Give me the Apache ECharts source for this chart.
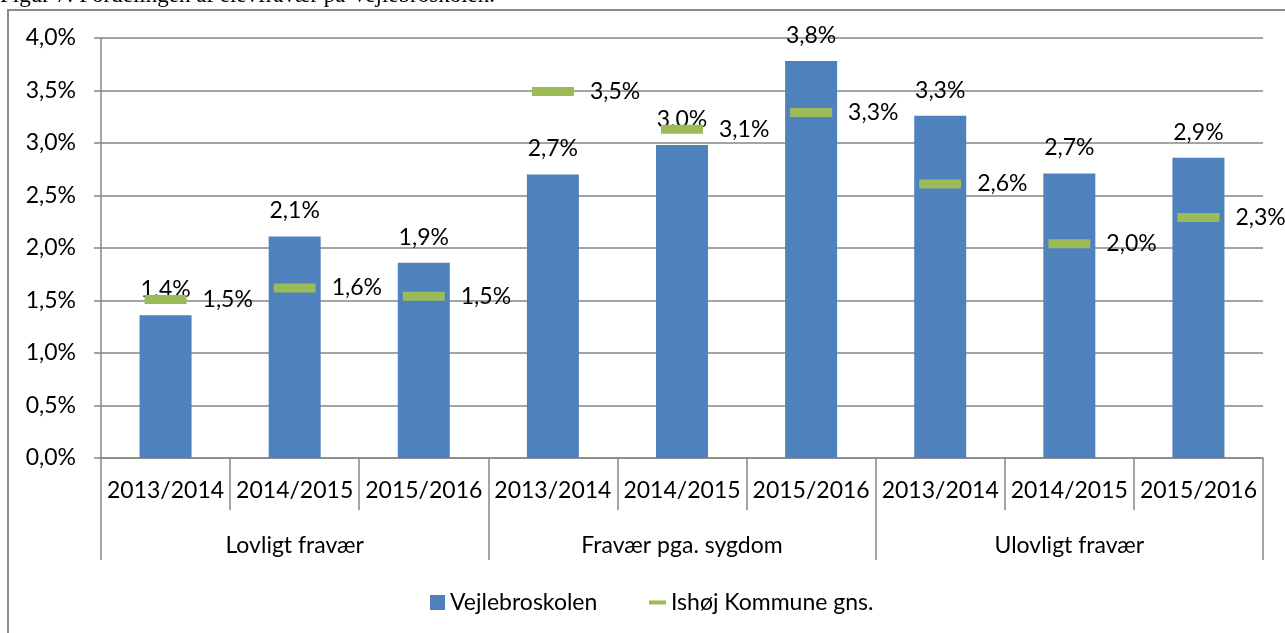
<!DOCTYPE html>
<html>
<head>
<meta charset="utf-8">
<script src="https://cdn.jsdelivr.net/npm/echarts@6/dist/echarts.min.js"></script>
<style>
  html, body { margin: 0; padding: 0; background: #fff; }
  #frame { position: absolute; left: 7px; top: 9px; width: 1400px; height: 800px; border: 2px solid #8c8c8c; pointer-events: none; }
  #mychart { position: absolute; left: 0; top: 0; width: 1285px; height: 633px; }
</style>
</head>
<body>
<div id="mychart"></div>
<div id="frame"></div>
<script>
// data
const years = ['2013/2014', '2014/2015', '2015/2016', '2013/2014', '2014/2015', '2015/2016', '2013/2014', '2014/2015', '2015/2016'];
const groups = ['Lovligt fravær', 'Fravær pga. sygdom', 'Ulovligt fravær'];
const vejlebro = [1.36, 2.11, 1.86, 2.70, 2.98, 3.78, 3.26, 2.71, 2.86];
const ishoj = [1.51, 1.62, 1.54, 3.49, 3.13, 3.29, 2.61, 2.04, 2.29];

const font = 'Lato';
const pct = v => v.toFixed(1).replace('.', ',') + '%';

let myChart = echarts.init(document.getElementById('mychart'));
myChart.setOption({
  animation: false,
  textStyle: { fontFamily: font },
  title: {
    text: 'Figur 7: Fordelingen af elevfravær på Vejlebroskolen.',
    left: 0,
    top: -16,
    padding: 0,
    textStyle: { fontFamily: 'Liberation Serif', fontSize: 23, fontWeight: 'normal', color: '#000' }
  },
  grid: { left: 101, right: 22, top: 38, bottom: 175 },
  legend: [
    {
      data: ['Vejlebroskolen'],
      left: 425, top: 586,
      icon: 'rect',
      itemWidth: 15, itemHeight: 15, itemGap: 6,
      textStyle: { fontFamily: font, fontSize: 23, color: '#000' }
    },
    {
      data: ['Ishøj Kommune gns.'],
      left: 644, top: 586,
      icon: 'rect',
      itemWidth: 17, itemHeight: 4, itemGap: 6,
      textStyle: { fontFamily: font, fontSize: 23, color: '#000' }
    }
  ],
  xAxis: [
    {
      type: 'category',
      data: years,
      axisLine: { lineStyle: { color: '#868686', width: 1.5 } },
      axisTick: { show: true, interval: 0, length: 52, lineStyle: { color: '#868686', width: 1.5 } },
      axisLabel: { interval: 0, margin: 21, fontSize: 23, color: '#000', fontFamily: font }
    },
    {
      type: 'category',
      data: groups,
      position: 'bottom',
      axisLine: { show: false },
      axisTick: { show: true, interval: 0, length: 102, lineStyle: { color: '#868686', width: 1.5 } },
      axisLabel: { interval: 0, margin: 76, fontSize: 23, color: '#000', fontFamily: font }
    }
  ],
  yAxis: {
    type: 'value',
    min: 0, max: 4, interval: 0.5,
    axisLine: { show: true, lineStyle: { color: '#868686', width: 1.5 } },
    axisTick: { show: true, length: 7, lineStyle: { color: '#868686', width: 1.5 } },
    splitLine: { lineStyle: { color: '#868686', width: 1.5 } },
    axisLabel: { margin: 25, fontSize: 23, color: '#000', fontFamily: font, formatter: v => pct(v) }
  },
  series: [
    {
      name: 'Vejlebroskolen',
      type: 'bar',
      data: vejlebro,
      barWidth: 52,
      itemStyle: { color: '#4F81BD' },
      label: {
        show: true, position: 'top', distance: 14,
        fontSize: 23, color: '#000', fontFamily: font,
        formatter: p => pct(p.value)
      }
    },
    {
      name: 'Ishøj Kommune gns.',
      type: 'scatter',
      data: ishoj,
      symbol: 'rect',
      symbolSize: [42, 9],
      itemStyle: { color: '#9BBB59', opacity: 1 },
      z: 3,
      label: {
        show: true, position: 'right', distance: 16,
        fontSize: 23, color: '#000', fontFamily: font,
        formatter: p => pct(p.value)
      }
    }
  ]
});
</script>
</body>
</html>
